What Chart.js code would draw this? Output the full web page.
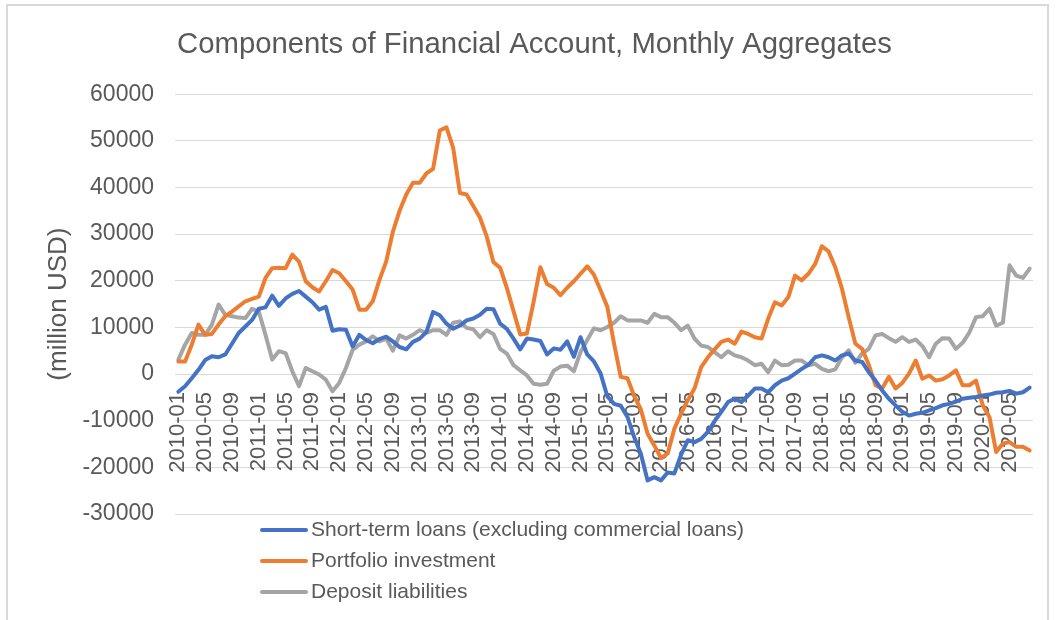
<!DOCTYPE html>
<html>
<head>
<meta charset="utf-8">
<title>Components of Financial Account</title>
<script src="https://cdn.jsdelivr.net/npm/chart.js@4.4.1/dist/chart.umd.min.js"></script>
<style>
    body { margin: 0; background: #fff; }
    #wrap { position: relative; width: 1064px; height: 620px; overflow: hidden; }
    #frame { position: absolute; left: 6px; top: 4px; width: 1039px; height: 640px; border: 2px solid #d9d9d9; }
    #chart { position: absolute; left: 0; top: 0; }
</style>
</head>
<body>
<div id="wrap">
    <div id="frame"></div>
    <canvas id="chart" width="1064" height="620"></canvas>
</div>
<script>
// monthly categories, 2010-01 .. 2020-08
const months = [];
for (let y = 2010; y <= 2020; y++) {
    for (let m = 1; m <= 12; m++) {
        if (y === 2020 && m > 8) break;
        months.push(y + "-" + String(m).padStart(2, "0"));
    }
}

const shortTermLoans = [
    -3800, -2600, -900, 900, 3000, 3800, 3600, 4200, 6500, 8800,
    10200, 11600, 14000, 14300, 16800, 14600, 16200, 17200, 17800, 16600,
    15400, 13800, 14400, 9300, 9600, 9500, 5900, 8400, 7300, 6600,
    7500, 8000, 7000, 5800, 5300, 6900, 7600, 9000, 13300, 12600,
    10800, 9700, 10400, 11500, 11900, 12700, 14000, 13900, 10800, 9700,
    7600, 5300, 7600, 7400, 7100, 4200, 5500, 5200, 7000, 3700,
    7900, 4200, 2700, 100, -4800, -6400, -6800, -9200, -13500, -17100,
    -22800, -22100, -22800, -21100, -21300, -17300, -14200, -14600, -13900, -12400,
    -10100, -8100, -6000, -5300, -6000, -4600, -3100, -3100, -3900, -2400,
    -1400, -900, 100, 1100, 2000, 3600, 4000, 3600, 2900, 4000,
    4400, 2900, 2600, 400, -1400, -3500, -5300, -6700, -8100, -8900,
    -8500, -8300, -7800, -7300, -6700, -6400, -5900, -5300, -5100, -4900,
    -4600, -4400, -4000, -3900, -3600, -4200, -3900, -2900
];

const portfolio = [
    2700, 2700, 6300, 10600, 8400, 8600, 10600, 12400, 13400, 14500,
    15600, 16100, 16600, 20600, 22700, 22800, 22700, 25600, 24100, 19900,
    18600, 17700, 19900, 22300, 21600, 19900, 18100, 13800, 13800, 15600,
    20200, 24100, 30500, 35000, 38500, 41000, 41000, 43000, 44000, 52200,
    52900, 48500, 38800, 38500, 36000, 33500, 29500, 24000, 22800, 18500,
    13500, 8500, 8700, 15500, 22900, 19300, 18500, 16900, 18500, 19900,
    21500, 23100, 21300, 17900, 14400, 6500, -600, -900, -4700, -7600,
    -12800, -15300, -18000, -17000, -11700, -8500, -5600, -3100, 1500, 3600,
    5300, 6900, 7400, 6500, 9100, 8600, 7900, 7600, 11900, 15400,
    14700, 16500, 21100, 20100, 21500, 23600, 27400, 26300, 22900, 18300,
    12200, 6500, 5400, 2000, -2400, -3100, -600, -3100, -1900, 100,
    2900, -1000, -300, -1400, -1100, -300, 800, -2400, -2400, -1400,
    -6700, -9200, -16700, -14900, -14600, -15600, -15600, -16400
];

const deposits = [
    3100, 6300, 8800, 8400, 8400, 10600, 14900, 12700, 12400, 12100,
    12000, 14000, 13400, 8400, 3100, 4900, 4500, 600, -2600, 1300,
    600, -100, -1200, -3700, -1900, 1300, 5200, 6300, 7000, 8100,
    7000, 7600, 5000, 8300, 7600, 8400, 9400, 8800, 9400, 9400,
    8400, 11000, 11300, 9900, 9600, 7900, 9400, 8600, 5400, 4400,
    1900, 800, -300, -2100, -2300, -2100, 700, 1600, 1800, 600,
    4700, 7300, 9800, 9400, 10100, 11000, 12400, 11500, 11500, 11500,
    11000, 12900, 12200, 12200, 11000, 9400, 10400, 7600, 6100, 5800,
    4700, 3600, 4900, 4000, 3600, 2900, 1900, 2200, 400, 2900,
    1900, 2000, 2900, 2900, 1900, 2200, 1100, 600, 1000, 3600,
    5100, 2400, 4400, 5400, 8300, 8600, 7700, 6900, 7900, 6900,
    7400, 6000, 3600, 6500, 7700, 7600, 5400, 6700, 8900, 12200,
    12400, 14000, 10400, 11000, 23300, 21100, 20600, 22600
];

const seriesNames = [
    "Short-term loans (excluding commercial loans)",
    "Portfolio investment",
    "Deposit liabilities"
];

const textColor = "#595959";
const gridColor = "#d9d9d9";
const fontFamily = '"Liberation Sans", Arial, sans-serif';

function line(label, data, color) {
    return {
        label: label,
        data: data,
        yAxisID: "y",
        borderColor: color,
        backgroundColor: color,
        borderWidth: 4,
        pointRadius: 0,
        tension: 0,
        borderJoinStyle: "round",
        borderCapStyle: "round",
    };
}

// excel-style legend: one item per row, under the plot
const stackedLegend = {
    id: "stackedLegend",
    afterDraw(chart) {
        const ctx = chart.ctx;
        const area = chart.chartArea;
        ctx.save();
        ctx.font = "21px " + fontFamily;
        ctx.textBaseline = "middle";
        ctx.lineCap = "round";
        chart.data.datasets.forEach((ds, i) => {
            const y = area.bottom + 16 + i * 31;
            ctx.strokeStyle = ds.borderColor;
            ctx.lineWidth = 4;
            ctx.beginPath();
            ctx.moveTo(area.left + 87, y);
            ctx.lineTo(area.left + 131, y);
            ctx.stroke();
            ctx.fillStyle = textColor;
            ctx.fillText(ds.label, area.left + 136, y);
        });
        ctx.restore();
    },
};

window.onload = function () {
    const ctx = document.getElementById("chart").getContext("2d");
    window.finChart = new Chart(ctx, {
        type: "line",
        data: {
            labels: months,
            datasets: [
                line(seriesNames[0], shortTermLoans, "#4472c4"),
                line(seriesNames[1], portfolio, "#ed7d31"),
                line(seriesNames[2], deposits, "#a5a5a5"),
            ],
        },
        options: {
            responsive: false,
            animation: false,
            layout: { padding: { left: 5, right: 0, top: 0, bottom: 106 } },
            plugins: {
                legend: { display: false },
                tooltip: { enabled: false },
                title: {
                    display: true,
                    text: "Components of Financial Account, Monthly Aggregates",
                    color: textColor,
                    font: { family: fontFamily, size: 29.3, weight: "normal" },
                    padding: { top: 27, bottom: 32 },
                },
            },
            scales: {
                x: {
                    type: "category",
                    offset: true,
                    position: { y: 0 },
                    grid: { display: false, drawTicks: false },
                    border: { display: false },
                    ticks: {
                        autoSkip: false,
                        minRotation: 90,
                        maxRotation: 90,
                        padding: 18,
                        color: textColor,
                        font: { family: fontFamily, size: 22 },
                        callback: function (val, i) {
                            return i % 4 === 0 ? this.getLabelForValue(val) : null;
                        },
                    },
                },
                y: {
                    min: -30000,
                    max: 60000,
                    afterFit: function (scale) {
                        scale.width = 170;
                    },
                    grid: { color: gridColor, lineWidth: 1, drawTicks: false },
                    border: { display: false },
                    ticks: {
                        stepSize: 10000,
                        padding: 21,
                        color: textColor,
                        font: { family: fontFamily, size: 23 },
                        callback: (v) => String(v),
                    },
                    title: {
                        display: true,
                        text: "(million USD)",
                        color: textColor,
                        font: { family: fontFamily, size: 26 },
                        padding: { top: 38, bottom: 0 },
                    },
                },
                // empty right-hand margin so the plot ends where the reference does
                yRight: {
                    position: "right",
                    min: -30000,
                    max: 60000,
                    grid: { display: false, drawTicks: false },
                    border: { display: false },
                    ticks: { display: false },
                    afterFit: function (scale) {
                        scale.width = 31;
                    },
                },
            },
        },
        plugins: [stackedLegend],
    });
};
</script>
</body>
</html>
